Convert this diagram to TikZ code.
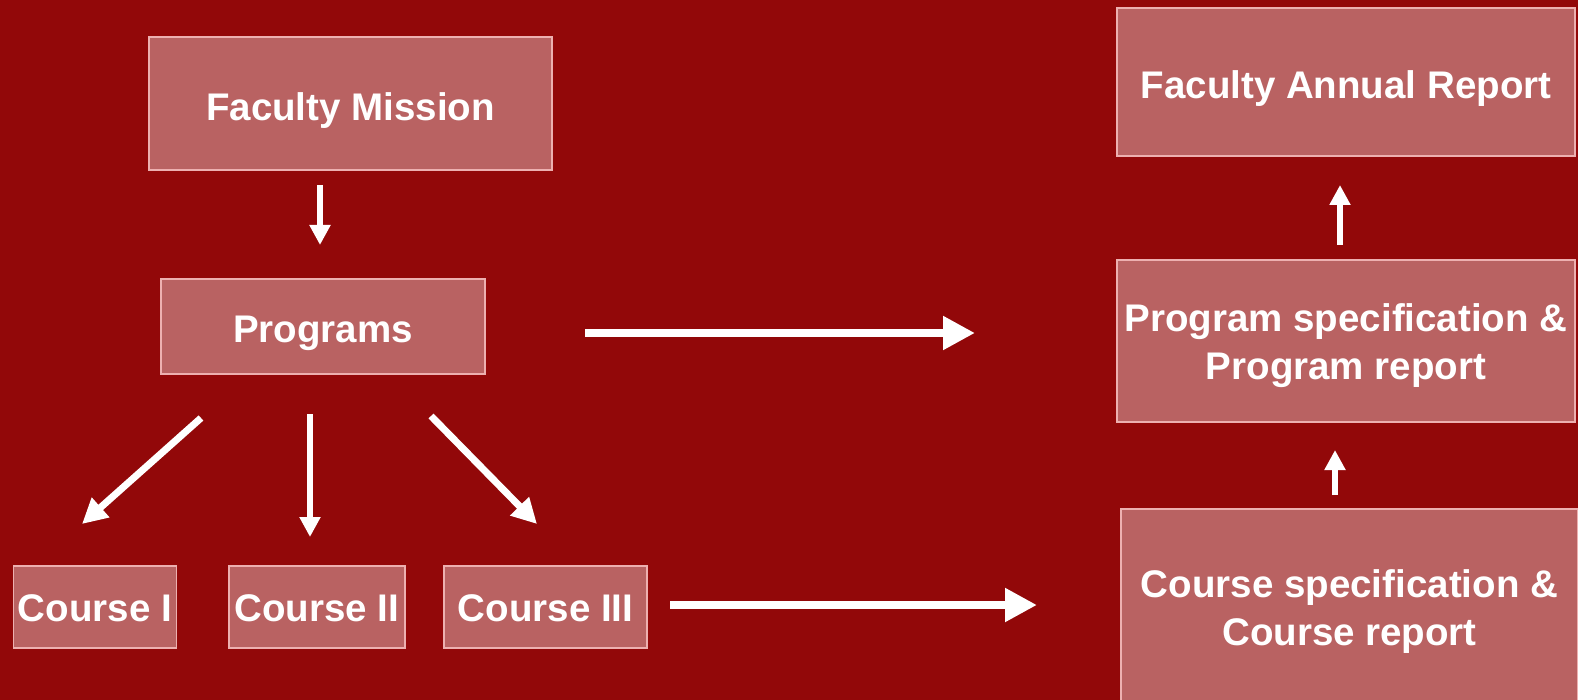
\documentclass[tikz,border=0pt]{standalone}
\usepackage{fontspec}
\setmainfont{Liberation Sans}
\usetikzlibrary{arrows.meta}
\definecolor{bgred}{HTML}{920809}
\definecolor{boxfill}{HTML}{B96262}
\definecolor{boxline}{HTML}{EDB0B0}
\newcommand{\lowtext}[2]{\raisebox{-#1}[\height][\depth]{\begin{tabular}{@{}c@{}}#2\end{tabular}}}
\tikzset{
  box/.style={draw=boxline, line width=1.5pt, fill=boxfill, inner sep=0pt,
    text=white, align=center, font=\bfseries\fontsize{38.5}{48.5}\selectfont},
  bigarrow/.style={draw=white, line width=8pt, -{Triangle[length=32pt,width=32pt]}},
  midarrow/.style={draw=white, line width=7pt, -{Triangle[length=25pt,width=25pt]}},
  smallarrow/.style={draw=white, line width=6pt, -{Triangle[length=20pt,width=20pt]}}
}
\begin{document}
\begin{tikzpicture}[x=1pt,y=-1pt]
\fill[bgred] (0,0) rectangle (1578,700);
\useasboundingbox (0,0) rectangle (1578,700);

\node[box, minimum width=403pt, minimum height=133pt] (fm) at (350.5,103.5) {\lowtext{7pt}{Faculty Mission}};
\node[box, minimum width=324pt, minimum height=95pt] (prog) at (323,326.5) {\lowtext{6pt}{Programs}};
\node[box, minimum width=163pt, minimum height=82pt] (c1) at (95,607) {\lowtext{5pt}{Course I}};
\node[box, minimum width=176pt, minimum height=82pt] (c2) at (317,607) {\lowtext{5pt}{Course II}};
\node[box, minimum width=203pt, minimum height=82pt] (c3) at (545.5,607) {\lowtext{5pt}{Course III}};

\node[box, minimum width=458pt, minimum height=148pt] (far) at (1346,82) {\lowtext{7pt}{Faculty Annual Report}};
\node[box, minimum width=458pt, minimum height=162pt] (ps) at (1346,341) {\lowtext{5pt}{Program specification \&\\Program report}};
\node[box, minimum width=457pt, minimum height=192pt] (cs) at (1349.5,605) {\lowtext{7pt}{Course specification \&\\Course report}};

% arrow end points
\coordinate (a1s) at (320,185);  \coordinate (a1e) at (320,245);
\coordinate (d1s) at (201,418);  \coordinate (d1e) at (82,524);
\coordinate (d2s) at (310,414);  \coordinate (d2e) at (310,537);
\coordinate (d3s) at (431,416);  \coordinate (d3e) at (537,524);
\coordinate (h1s) at (585,333);  \coordinate (h1e) at (975,333);
\coordinate (h2s) at (670,605);  \coordinate (h2e) at (1037,605);
\coordinate (u1s) at (1340,245); \coordinate (u1e) at (1340,185);
\coordinate (u2s) at (1335,495); \coordinate (u2e) at (1335,450);

\draw[smallarrow] (a1s) -- (a1e);
\draw[midarrow] (d1s) -- (d1e);
\draw[smallarrow] (d2s) -- (d2e);
\draw[midarrow] (d3s) -- (d3e);
\draw[bigarrow] (h1s) -- (h1e);
\draw[bigarrow] (h2s) -- (h2e);
\draw[smallarrow] (u1s) -- (u1e);
\draw[smallarrow] (u2s) -- (u2e);
\end{tikzpicture}
\end{document}
